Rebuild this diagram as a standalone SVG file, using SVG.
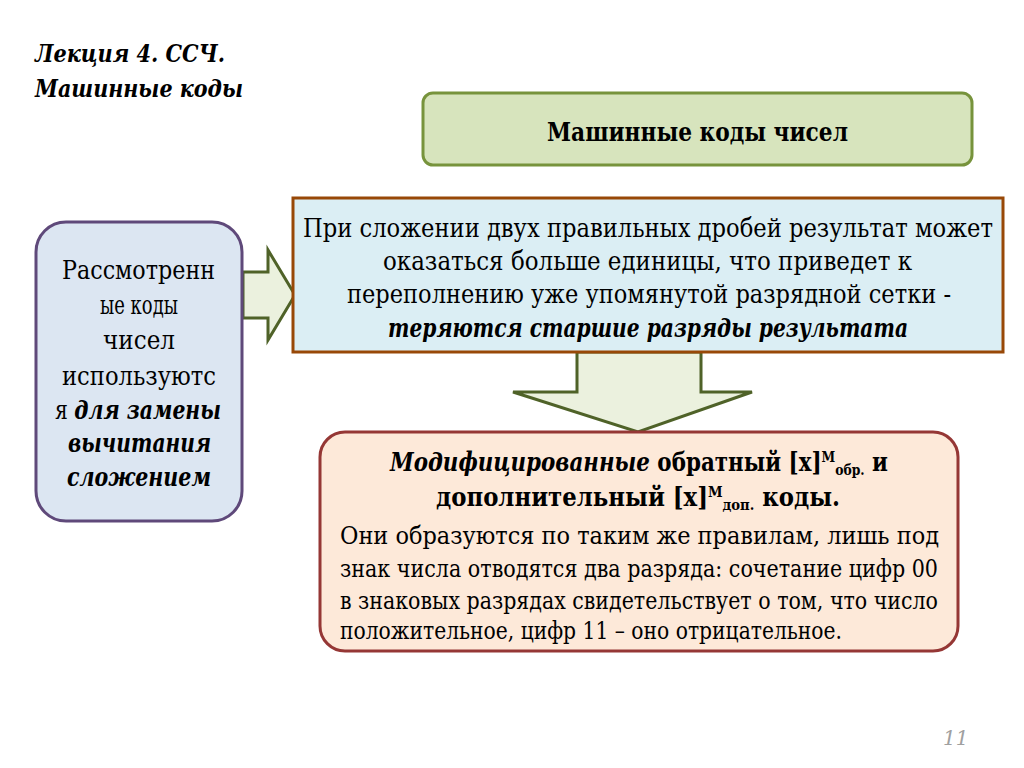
<svg xmlns="http://www.w3.org/2000/svg" width="1024" height="768" viewBox="0 0 1024 768">
<style>
text{font-family:"DejaVu Serif","Liberation Serif",serif;fill:#000}
.h{font-size:24px;font-weight:bold;font-style:italic}
.t{font-size:26px}
.b{font-weight:bold}
.bi{font-weight:bold;font-style:italic}
.sup{font-size:15px}
</style>
<rect width="1024" height="768" fill="#fff"/>
<text class="h" x="35" y="62" textLength="190" lengthAdjust="spacingAndGlyphs">Лекция 4. ССЧ.</text>
<text class="h" x="35" y="97" textLength="208" lengthAdjust="spacingAndGlyphs">Машинные коды</text>

<g id="connectors">
<polygon points="243,272 268,272 268,250 295,295 268,340 268,318 243,318" fill="#ebf1de" stroke="#4f6228" stroke-width="3"/>
<polygon points="577,352 701,352 701,392 752,392 638,432 513,392 577,392" fill="#ebf1de" stroke="#4f6228" stroke-width="3"/>
</g>

<g id="n-top">
<rect x="423" y="93" width="549" height="72" rx="10" fill="#d7e4bd" stroke="#77933c" stroke-width="3"/>
<text class="t b" x="547" y="141" textLength="301" lengthAdjust="spacingAndGlyphs">Машинные коды чисел</text>
</g>

<g id="n-left">
<rect x="36" y="222" width="206" height="299" rx="30" fill="#dce6f2" stroke="#5f497a" stroke-width="3"/>
<text class="t" x="62" y="279" textLength="153" lengthAdjust="spacingAndGlyphs">Рассмотренн</text>
<text class="t" x="100" y="314" textLength="78" lengthAdjust="spacingAndGlyphs">ые коды</text>
<text class="t" x="103" y="349" textLength="72" lengthAdjust="spacingAndGlyphs">чисел</text>
<text class="t" x="62" y="385" textLength="154" lengthAdjust="spacingAndGlyphs">используютс</text>
<text class="t" x="55" y="419" textLength="166" lengthAdjust="spacingAndGlyphs">я <tspan class="bi">для замены</tspan></text>
<text class="t bi" x="68" y="452" textLength="143" lengthAdjust="spacingAndGlyphs">вычитания</text>
<text class="t bi" x="67" y="486" textLength="144" lengthAdjust="spacingAndGlyphs">сложением</text>
</g>

<g id="n-mid">
<rect x="293" y="198" width="710" height="154" fill="#dbeef4" stroke="#984807" stroke-width="3"/>
<text class="t" x="303" y="237" textLength="690" lengthAdjust="spacingAndGlyphs">При сложении двух правильных дробей результат может</text>
<text class="t" x="383" y="270" textLength="529" lengthAdjust="spacingAndGlyphs">оказаться больше единицы, что приведет к</text>
<text class="t" x="347" y="303" textLength="604" lengthAdjust="spacingAndGlyphs">переполнению уже упомянутой разрядной сетки -</text>
<text class="t bi" x="388" y="337" textLength="520" lengthAdjust="spacingAndGlyphs">теряются старшие разряды результата</text>
</g>

<g id="n-bottom">
<rect x="320" y="432" width="638" height="219" rx="25" fill="#fde9d9" stroke="#953735" stroke-width="3"/>
<text class="t b" x="390" y="471" textLength="498" lengthAdjust="spacingAndGlyphs"><tspan class="bi">Модифицированные</tspan> обратный [x]<tspan class="sup" dy="-9">M</tspan><tspan class="sup" dy="13">обр.</tspan><tspan dy="-4"> и</tspan></text>
<text class="t b" x="436" y="506" textLength="404" lengthAdjust="spacingAndGlyphs">дополнительный [x]<tspan class="sup" dy="-9">M</tspan><tspan class="sup" dy="13">доп.</tspan><tspan dy="-4"> коды.</tspan></text>
<text class="t" style="font-size:24px" x="340" y="544" textLength="599" lengthAdjust="spacingAndGlyphs">Они образуются по таким же правилам, лишь под</text>
<text class="t" style="font-size:24px" x="340" y="577" textLength="598" lengthAdjust="spacingAndGlyphs">знак числа отводятся два разряда: сочетание цифр 00</text>
<text class="t" style="font-size:24px" x="340" y="609" textLength="598" lengthAdjust="spacingAndGlyphs">в знаковых разрядах свидетельствует о том, что число</text>
<text class="t" style="font-size:24px" x="340" y="639" textLength="502" lengthAdjust="spacingAndGlyphs">положительное, цифр 11 – оно отрицательное.</text>
</g>

<text x="943" y="745" style="font-size:20px;font-style:italic;fill:#a0a0a0">11</text>
</svg>
